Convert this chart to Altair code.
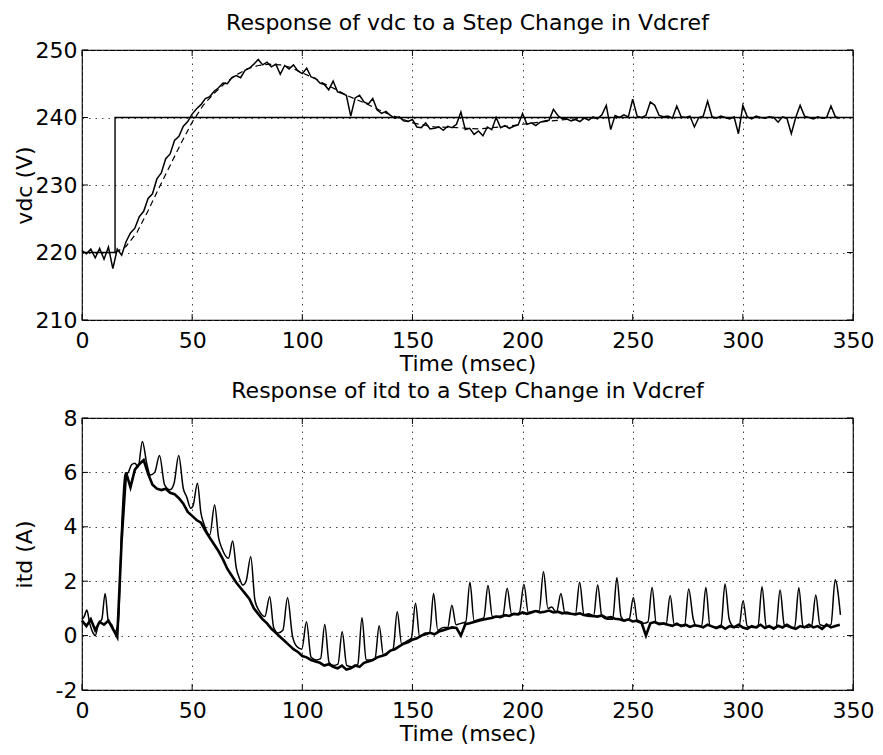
import altair as alt
import pandas as pd

FONT = "DejaVu Sans"

# ---------------- data: top panel (vdc) ----------------
X_TICKS = [0, 50, 100, 150, 200, 250, 300, 350]
VDC_TICKS = [210, 220, 230, 240, 250]
ITD_TICKS = [-2, 0, 2, 4, 6, 8]

# reference Vdcref step
ref_t = [0, 15, 15, 350]
ref_v = [220, 220, 240, 240]

# measured vdc, sampled every 2 ms from t = 0
vdc_meas = [
    220.3, 219.8, 220.5, 219.2, 220.6, 219.0, 220.8, 217.6, 220.5, 219.6,
    221.6, 222.9, 223.6, 225.3, 226.1, 228.0, 228.7, 230.9, 231.8, 233.9,
    234.6, 236.6, 237.2, 238.7, 239.4, 240.5, 241.3, 241.9, 242.8, 243.1,
    243.9, 244.4, 245.1, 245.0, 245.9, 246.2, 245.9, 247.0, 247.3, 247.9,
    248.6, 247.8, 248.2, 247.5, 247.9, 246.4, 247.7, 247.2, 247.8, 246.9,
    246.5, 247.3, 246.0, 245.8, 245.1, 244.9, 244.1, 245.4, 243.8, 243.6,
    243.3, 240.2, 242.9, 243.3, 242.3, 242.0, 242.8, 241.1, 240.6, 240.9,
    240.3, 239.9, 240.1, 239.5, 239.4, 239.7, 238.6, 238.5, 239.2, 238.3,
    238.4, 238.6, 238.1, 238.7, 238.5, 239.0, 240.8, 238.2, 238.4, 237.5,
    238.0, 237.3, 238.6, 238.2, 240.0, 238.5, 238.8, 238.4, 238.7, 238.9,
    240.6, 239.0, 239.2, 238.8, 239.3, 239.5, 239.6, 241.2, 240.3, 239.8,
    239.8, 239.5, 239.7, 239.4, 239.9, 239.6, 240.1, 239.8, 240.4, 241.8,
    238.2, 240.3, 240.0, 240.4, 240.1, 242.7, 240.2, 240.0, 240.3, 242.3,
    241.8, 240.3, 240.1, 240.2, 239.9, 241.7, 240.1, 240.0, 240.2, 238.6,
    240.0, 240.2, 242.4, 240.1, 239.9, 240.2, 240.0, 239.8, 240.1, 237.6,
    241.8, 240.1, 239.8, 240.2, 240.0, 239.9, 240.1, 240.0, 239.3, 240.1,
    239.9, 237.6, 240.0, 241.8, 240.2, 240.0, 239.8, 240.1, 239.9, 240.0,
    241.7, 240.1, 239.9,
]

# simulated vdc (dashed)
sim_t = [15, 20, 25, 30, 35, 40, 45, 50, 55, 60, 65, 70, 75, 80, 85, 90, 95,
         100, 105, 110, 115, 120, 125, 130, 135, 140, 145, 150, 160, 170, 180,
         190, 200, 210, 220, 230, 240, 260, 280, 300, 320, 345]
sim_v = [220.0, 220.9, 223.0, 226.2, 229.6, 232.9, 236.2, 239.3, 241.8, 243.6,
         245.1, 246.3, 247.2, 247.7, 247.9, 247.8, 247.4, 246.6, 245.9, 245.0,
         244.2, 243.3, 242.6, 241.9, 241.1, 240.4, 239.8, 239.2, 238.6, 238.5,
         238.3, 238.6, 239.0, 239.4, 239.7, 239.9, 240.0, 240.0, 240.0, 240.0,
         240.0, 240.0]

# ---------------- data: bottom panel (itd) ----------------
# thick noisy itd, sampled every 2 ms from t = 0
itd_thick = [
    0.55, 0.35, 0.6, 0.2, 0.5, 0.4, 0.55, 0.25, -0.05, 3.5,
    6.0, 5.45, 6.1, 6.3, 6.45, 5.95, 5.55, 5.4, 5.35, 5.4,
    5.25, 5.2, 5.05, 4.85, 4.55, 4.4, 4.25, 4.15, 3.85, 3.6,
    3.35, 3.1, 2.8, 2.45, 2.2, 1.95, 1.75, 1.55, 1.35, 1.0,
    0.8, 0.6, 0.45, 0.25, 0.1, -0.05, -0.2, -0.35, -0.5, -0.6,
    -0.75, -0.8, -0.9, -0.95, -1.0, -1.1, -1.05, -1.15, -1.2, -1.1,
    -1.25, -1.2, -1.1, -1.15, -1.0, -0.95, -0.9, -0.8, -0.75, -0.7,
    -0.55, -0.5, -0.4, -0.3, -0.25, -0.15, -0.1, 0.0, 0.05, 0.1,
    0.05, 0.15, 0.2, 0.25, 0.3, 0.28, 0.0, 0.42, 0.45, 0.5,
    0.55, 0.58, 0.62, 0.65, 0.7, 0.68, 0.75, 0.72, 0.8, 0.78,
    0.85, 0.8, 0.85, 0.9, 0.85, 0.88, 0.92, 0.85, 0.88, 0.82,
    0.85, 0.8, 0.78, 0.82, 0.75, 0.78, 0.72, 0.7, 0.74, 0.65,
    0.68, 0.62, 0.6, 0.55, 0.6, 0.52, 0.55, 0.48, 0.0, 0.45,
    0.5, 0.42, 0.45, 0.4, 0.36, 0.44, 0.35, 0.4, 0.32, 0.38,
    0.35, 0.3, 0.4, 0.34, 0.28, 0.36, 0.25, 0.35, 0.3, 0.4,
    0.3, 0.25, 0.35, 0.3, 0.4, 0.28, 0.35, 0.25, 0.36, 0.3,
    0.4, 0.3, 0.25, 0.35, 0.3, 0.4, 0.3, 0.35, 0.25, 0.4,
    0.3, 0.35, 0.4,
]

# itd with periodic ripple peaks (time, value)
ripple_t = [
    0, 1, 2.2, 3.5, 5, 6, 7.5, 9, 10.5, 12, 13.5, 15, 16.5, 18, 19.5, 21,
    22.5, 24, 25.5, 27.4, 29.5, 31, 33, 35.2, 37.5, 40, 41.8, 43.9, 46, 47.5,
    49.4, 50.5, 52.4, 54, 55.5, 58, 60.2, 62, 63.5, 66.5, 68.4, 70, 71.5, 73,
    74.5, 76.6, 78.5, 80.5, 83, 85.2, 87, 89, 91.2, 93.3, 95.5, 97.5, 99.8,
    101.9, 104, 106.3, 108.3, 110.2, 112.2, 114.2, 116.2, 118.1, 120.2, 123,
    125.2, 127.1, 129, 131, 133, 134.9, 136.8, 139, 141.2, 143.1, 145.1, 147.5,
    149.5, 151.4, 153.3, 155.8, 157.8, 159.6, 161.5, 164, 166, 167.9, 169.8,
    172, 174.2, 176.1, 178, 180.5, 182.4, 184.3, 186.3, 189, 191.1, 193, 195,
    197, 198.6, 200.6, 202.6, 205.5, 207.5, 209.5, 211.5, 213.2, 215.4, 217.4,
    219.3, 222, 224, 225.9, 227.9, 230.2, 232.2, 234.1, 236, 238.5, 240.9,
    242.8, 244.7, 246.5, 248.4, 250.3, 252.2, 255, 256.9, 258.8, 260.7, 263,
    265.1, 267.0, 268.9, 271.4, 273.5, 275.4, 277.5, 279, 281.3, 283.2, 285.1,
    288, 290, 291.9, 293.8, 295.5, 298.2, 300.1, 302, 304.7, 306.8, 308.7,
    310.6, 313, 315, 316.9, 318.8, 321.5, 323.5, 325.4, 327.3, 329.2, 331.2,
    333.1, 335, 338, 340, 341.9, 344.3,
]
ripple_v = [
    0.6, 0.7, 0.94, 0.45, 0.1, 0.0, 0.45, 0.6, 1.55, 0.5, 0.4, 0.15, 0.5, 4.0,
    5.9, 6.0, 6.28, 6.34, 6.2, 7.14, 6.28, 5.9, 6.0, 6.62, 5.54, 5.36, 5.6,
    6.62, 5.4, 5.1, 4.68, 4.8, 5.6, 4.5, 4.07, 3.7, 4.8, 3.6, 3.21, 2.84, 3.48,
    2.5, 2.1, 1.86, 2.0, 2.9, 1.3, 0.9, 0.7, 1.43, 0.3, 0.1, 0.2, 1.39, 0.0,
    -0.4, -0.5, 0.51, -0.8, -0.9, -0.85, 0.41, -1.0, -1.1, -1.05, 0.14, -1.1,
    -1.15, -1.05, 0.66, -0.9, -0.9, -0.85, 0.36, -0.7, -0.6, -0.5, 0.88, -0.3,
    -0.2, -0.1, 1.19, -0.05, 0.1, 0.1, 1.55, 0.2, 0.3, 0.3, 1.12, 0.4, 0.45,
    0.5, 1.96, 0.55, 0.6, 0.65, 1.84, 0.7, 0.7, 0.75, 1.74, 0.8, 0.8, 0.85,
    1.89, 0.85, 0.9, 0.9, 2.35, 1.0, 1.05, 0.85, 1.55, 0.8, 0.8, 0.8, 1.96,
    0.75, 0.7, 0.7, 1.86, 0.7, 0.6, 0.6, 2.13, 0.7, 0.55, 0.6, 1.4, 0.5, 0.45,
    0.5, 1.77, 0.45, 0.45, 0.4, 1.47, 0.4, 0.4, 0.35, 1.71, 0.6, 0.35, 0.35,
    1.77, 0.35, 0.3, 0.3, 1.9, 0.6, 0.35, 0.3, 1.28, 0.35, 0.3, 0.3, 1.8, 0.35,
    0.3, 0.3, 1.68, 0.4, 0.3, 0.3, 1.76, 0.35, 0.3, 0.35, 1.49, 0.4, 0.35, 0.4,
    2.05, 0.76,
]

# ---------------- frames ----------------
ref_df = pd.DataFrame({"t": ref_t, "v": ref_v, "i": list(range(len(ref_t)))})
meas_df = pd.DataFrame({"t": [2 * k for k in range(len(vdc_meas))], "v": vdc_meas})
sim_df = pd.DataFrame({"t": sim_t, "v": sim_v})
thick_df = pd.DataFrame({"t": [2 * k for k in range(len(itd_thick))], "v": itd_thick})
ripple_df = pd.DataFrame({"t": ripple_t, "v": ripple_v})
xt_df = pd.DataFrame({"t": X_TICKS})
vt_df = pd.DataFrame({"v": VDC_TICKS})
it_df = pd.DataFrame({"v": ITD_TICKS})

W = 771
H1 = 270
H2 = 272
TICK = 6

x_enc = alt.X(
    "t:Q",
    scale=alt.Scale(domain=[0, 350], nice=False, zero=False),
    axis=alt.Axis(values=X_TICKS, title="Time (msec)", labelPadding=10, titlePadding=2),
)


def y_enc(domain, values, title, expr):
    return alt.Y(
        "v:Q",
        scale=alt.Scale(domain=domain, nice=False, zero=False),
        axis=alt.Axis(values=values, title=title, labelPadding=5,
                      titleX=-58, titleBaseline="middle", labelExpr=expr),
    )


def panel(layers, y, ticks_df, h, title):
    xt_top = alt.Chart(xt_df).mark_rule(color="black").encode(
        x=x_enc, y=alt.value(0), y2=alt.value(TICK))
    xt_bot = alt.Chart(xt_df).mark_rule(color="black").encode(
        x=x_enc, y=alt.value(h - TICK), y2=alt.value(h))
    yt_l = alt.Chart(ticks_df).mark_rule(color="black").encode(
        y=y, x=alt.value(0), x2=alt.value(TICK))
    yt_r = alt.Chart(ticks_df).mark_rule(color="black").encode(
        y=y, x=alt.value(W - TICK), x2=alt.value(W))
    return alt.layer(*layers, xt_top, xt_bot, yt_l, yt_r).properties(
        width=W, height=h, title=title)


y1 = y_enc([210, 250], VDC_TICKS, "vdc (V)", "'' + datum.value")
top_layers = [
    alt.Chart(ref_df).mark_line(color="black", strokeWidth=1.4).encode(
        x=x_enc, y=y1, order=alt.Order("i:Q")),
    alt.Chart(sim_df).mark_line(color="black", strokeWidth=1.2, strokeDash=[6, 4]).encode(
        x=x_enc, y=y1),
    alt.Chart(meas_df).mark_line(color="black", strokeWidth=1.5).encode(
        x=x_enc, y=y1),
]
top = panel(top_layers, y1, vt_df, H1, "Response of vdc to a Step Change in Vdcref")

y2 = y_enc([-2, 8], ITD_TICKS, "itd (A)", "'' + datum.value")
bot_layers = [
    alt.Chart(ripple_df).mark_line(color="black", strokeWidth=1.5, interpolate="monotone").encode(
        x=x_enc, y=y2),
    alt.Chart(thick_df).mark_line(color="black", strokeWidth=2.6).encode(
        x=x_enc, y=y2),
]
bot = panel(bot_layers, y2, it_df, H2, "Response of itd to a Step Change in Vdcref")

chart = alt.vconcat(top, bot, spacing=4).properties(
    padding={"left": 4, "top": 3, "right": 0, "bottom": 0},
    background="white",
).configure_view(
    stroke="black", strokeWidth=1.2
).configure_axis(
    labelFont=FONT, titleFont=FONT, labelFontSize=22, titleFontSize=22,
    titleFontWeight="normal", labelColor="black", titleColor="black",
    grid=True, gridColor="#444444", gridDash=[1.5, 5], gridOpacity=1, gridWidth=1,
    ticks=False, domain=False, labelFlush=False, labelOverlap=False,
).configure_title(
    font=FONT, fontSize=22, fontWeight="normal", color="black", offset=4, anchor="middle"
)

chart.save("out.html", embed_options={"renderer": "svg", "actions": False})
